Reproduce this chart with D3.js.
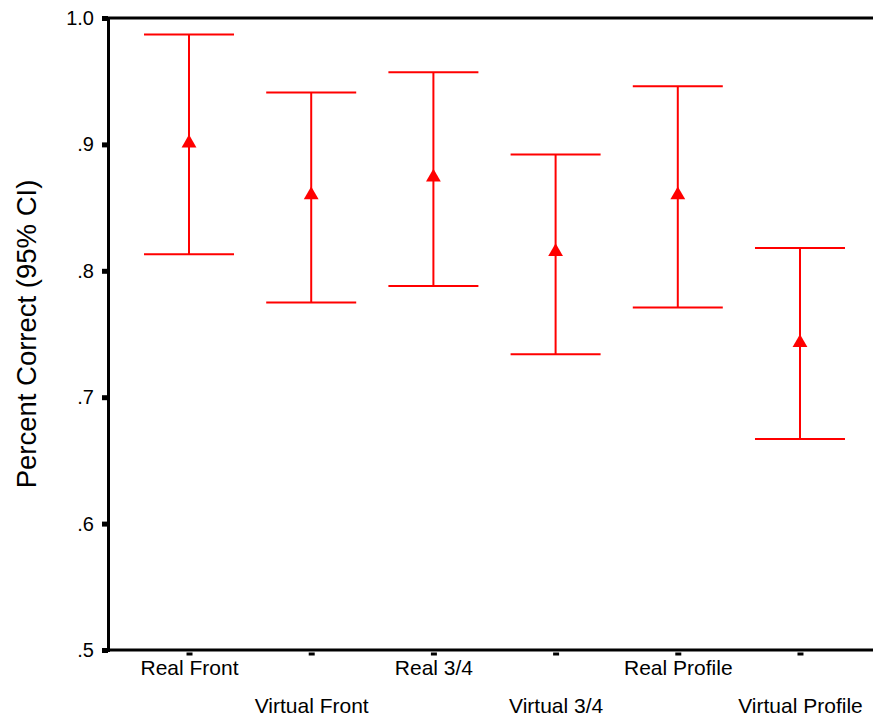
<!DOCTYPE html>
<html>
<head>
<meta charset="utf-8">
<script src="https://cdn.jsdelivr.net/npm/d3@7"></script>
<style>
  body { margin: 0; background: #fff; }
  text { font-family: "Liberation Sans", Arial, sans-serif; fill: #000; }
</style>
</head>
<body>
<svg id="chart" width="873" height="718"></svg>
<script>
const categories = ["Real Front", "Virtual Front", "Real 3/4", "Virtual 3/4", "Real Profile", "Virtual Profile"];
const means = [0.901, 0.860, 0.874, 0.815, 0.860, 0.743];
const upper = [0.987, 0.941, 0.957, 0.892, 0.946, 0.818];
const lower = [0.813, 0.775, 0.788, 0.734, 0.771, 0.667];
const yTicks = [0.5, 0.6, 0.7, 0.8, 0.9, 1.0];

const data = categories.map((c, i) => ({ cat: c, mean: means[i], hi: upper[i], lo: lower[i] }));

const svg = d3.select("#chart");
const marginLeft = 108, marginTop = 18, plotBottom = 650, plotRight = 881;

const x = d3.scalePoint()
  .domain(categories)
  .range([marginLeft, plotRight])
  .padding(0.663);

const y = d3.scaleLinear()
  .domain([0.5, 1.0])
  .range([plotBottom, marginTop]);

// y axis
const yAxis = svg.append("g")
  .attr("transform", `translate(${marginLeft},0)`)
  .call(d3.axisLeft(y)
    .tickValues(yTicks)
    .tickSize(6)
    .tickPadding(8)
    .tickFormat(d => d === 1 ? "1.0" : d3.format(".1f")(d).replace(/^0/, "")));
yAxis.select(".domain").attr("stroke", "#000").attr("stroke-width", 3);
yAxis.selectAll(".tick line").attr("stroke", "#000").attr("stroke-width", 5);
yAxis.selectAll(".tick text").style("font-size", "20px");

// x axis
const xAxis = svg.append("g")
  .attr("transform", `translate(0,${plotBottom})`)
  .call(d3.axisBottom(x).tickSize(0).tickPadding(0));
xAxis.select(".domain").remove();
xAxis.selectAll(".tick line")
  .attr("y1", 2.5).attr("y2", 5.5)
  .attr("stroke", "#000").attr("stroke-width", 6);
xAxis.selectAll(".tick text")
  .attr("y", (d, i) => i % 2 === 0 ? 25 : 63)
  .attr("dy", null)
  .style("font-size", "21px");

// top and bottom lines
svg.append("line")
  .attr("x1", marginLeft - 1.5).attr("x2", plotRight)
  .attr("y1", y(1.0)).attr("y2", y(1.0))
  .attr("stroke", "#000").attr("stroke-width", 3);
svg.append("line")
  .attr("x1", marginLeft - 1.5).attr("x2", plotRight)
  .attr("y1", y(0.5)).attr("y2", y(0.5))
  .attr("stroke", "#000").attr("stroke-width", 3);

// y label
svg.append("text")
  .attr("transform", `translate(36,${(marginTop + plotBottom) / 2}) rotate(-90)`)
  .attr("text-anchor", "middle")
  .style("font-size", "27.5px")
  .text("Percent Correct (95% CI)");

// error bars
const capHalf = 45;
const bars = svg.append("g").selectAll("g")
  .data(data)
  .join("g")
  .attr("stroke", "#ff0000")
  .attr("stroke-width", 2);

bars.append("line")
  .attr("x1", d => x(d.cat)).attr("x2", d => x(d.cat))
  .attr("y1", d => y(d.hi)).attr("y2", d => y(d.lo));
bars.append("line")
  .attr("x1", d => x(d.cat) - capHalf).attr("x2", d => x(d.cat) + capHalf)
  .attr("y1", d => y(d.hi)).attr("y2", d => y(d.hi));
bars.append("line")
  .attr("x1", d => x(d.cat) - capHalf).attr("x2", d => x(d.cat) + capHalf)
  .attr("y1", d => y(d.lo)).attr("y2", d => y(d.lo));

svg.append("g").selectAll("path")
  .data(data)
  .join("path")
  .attr("d", d3.symbol(d3.symbolTriangle, 95))
  .attr("transform", d => `translate(${x(d.cat)},${y(d.mean)})`)
  .attr("fill", "#ff0000");
</script>
</body>
</html>
